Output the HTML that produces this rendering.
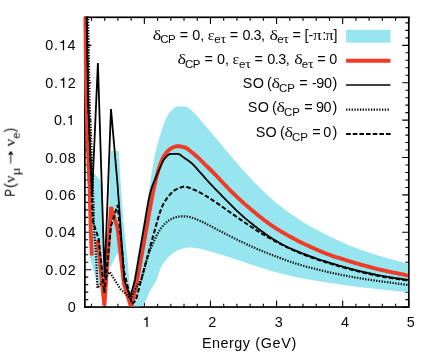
<!DOCTYPE html><html><head><meta charset="utf-8"><title>plot</title><style>
html,body{margin:0;padding:0;background:#fff;}
#p{position:relative;width:436px;height:354px;overflow:hidden;background:#fff;}
text{font-family:"Liberation Sans",sans-serif;font-size:14.4px;}
text.ss{font-size:11.5px;}
text.g{font-family:"Liberation Serif",serif;font-size:14.8px;}
text.sg{font-family:"Liberation Serif",serif;font-size:11.8px;}
</style></head><body><div id="p">
<svg width="436" height="354" viewBox="0 0 436 354" style="position:absolute;left:0;top:0">
<defs><clipPath id="c"><rect x="83.25" y="16.8" width="324.85" height="289.55"/></clipPath></defs>
<rect x="84.85" y="17.3" width="323.95000000000005" height="289.75" fill="none" stroke="#000" stroke-width="1.7"/>
<path d="M91.46,307.05v-3.4M91.46,17.3v3.4M104.68,307.05v-3.4M104.68,17.3v3.4M117.91,307.05v-3.4M117.91,17.3v3.4M131.13,307.05v-3.4M131.13,17.3v3.4M144.35,307.05v-6.6M144.35,17.3v6.6M157.57,307.05v-3.4M157.57,17.3v3.4M170.79,307.05v-3.4M170.79,17.3v3.4M184.02,307.05v-3.4M184.02,17.3v3.4M197.24,307.05v-3.4M197.24,17.3v3.4M210.46,307.05v-6.6M210.46,17.3v6.6M223.68,307.05v-3.4M223.68,17.3v3.4M236.90,307.05v-3.4M236.90,17.3v3.4M250.13,307.05v-3.4M250.13,17.3v3.4M263.35,307.05v-3.4M263.35,17.3v3.4M276.57,307.05v-6.6M276.57,17.3v6.6M289.79,307.05v-3.4M289.79,17.3v3.4M303.01,307.05v-3.4M303.01,17.3v3.4M316.24,307.05v-3.4M316.24,17.3v3.4M329.46,307.05v-3.4M329.46,17.3v3.4M342.68,307.05v-6.6M342.68,17.3v6.6M355.90,307.05v-3.4M355.90,17.3v3.4M369.12,307.05v-3.4M369.12,17.3v3.4M382.35,307.05v-3.4M382.35,17.3v3.4M395.57,307.05v-3.4M395.57,17.3v3.4M408.79,307.05v-6.6M408.79,17.3v6.6M84.85,307.08h6.6M408.8,307.08h-6.6M84.85,299.60h3.4M408.8,299.60h-3.4M84.85,292.12h3.4M408.8,292.12h-3.4M84.85,284.64h3.4M408.8,284.64h-3.4M84.85,277.17h3.4M408.8,277.17h-3.4M84.85,269.69h6.6M408.8,269.69h-6.6M84.85,262.21h3.4M408.8,262.21h-3.4M84.85,254.73h3.4M408.8,254.73h-3.4M84.85,247.25h3.4M408.8,247.25h-3.4M84.85,239.77h3.4M408.8,239.77h-3.4M84.85,232.30h6.6M408.8,232.30h-6.6M84.85,224.82h3.4M408.8,224.82h-3.4M84.85,217.34h3.4M408.8,217.34h-3.4M84.85,209.86h3.4M408.8,209.86h-3.4M84.85,202.38h3.4M408.8,202.38h-3.4M84.85,194.90h6.6M408.8,194.90h-6.6M84.85,187.43h3.4M408.8,187.43h-3.4M84.85,179.95h3.4M408.8,179.95h-3.4M84.85,172.47h3.4M408.8,172.47h-3.4M84.85,164.99h3.4M408.8,164.99h-3.4M84.85,157.51h6.6M408.8,157.51h-6.6M84.85,150.03h3.4M408.8,150.03h-3.4M84.85,142.56h3.4M408.8,142.56h-3.4M84.85,135.08h3.4M408.8,135.08h-3.4M84.85,127.60h3.4M408.8,127.60h-3.4M84.85,120.12h6.6M408.8,120.12h-6.6M84.85,112.64h3.4M408.8,112.64h-3.4M84.85,105.16h3.4M408.8,105.16h-3.4M84.85,97.68h3.4M408.8,97.68h-3.4M84.85,90.21h3.4M408.8,90.21h-3.4M84.85,82.73h6.6M408.8,82.73h-6.6M84.85,75.25h3.4M408.8,75.25h-3.4M84.85,67.77h3.4M408.8,67.77h-3.4M84.85,60.29h3.4M408.8,60.29h-3.4M84.85,52.81h3.4M408.8,52.81h-3.4M84.85,45.34h6.6M408.8,45.34h-6.6M84.85,37.86h3.4M408.8,37.86h-3.4M84.85,30.38h3.4M408.8,30.38h-3.4M84.85,22.90h3.4M408.8,22.90h-3.4" fill="none" stroke="#000" stroke-width="1.1"/>
<g clip-path="url(#c)">
<polygon fill="#97e5ee" points="131.5,307.0 131.0,297.0 133.6,280.0 135.1,271.1 136.6,262.2 138.1,253.2 139.6,244.4 141.1,235.6 142.6,227.0 144.1,218.6 145.6,210.2 147.1,201.7 148.6,193.0 150.1,183.6 151.6,173.5 153.1,164.2 154.6,156.5 156.1,149.8 157.6,143.9 159.1,138.8 160.6,134.0 162.1,128.9 163.6,124.3 165.1,120.8 166.6,117.5 168.1,114.7 169.6,112.6 171.1,110.9 172.6,109.4 174.1,108.1 175.6,107.2 177.1,106.6 178.6,106.6 180.1,106.6 181.6,106.6 183.1,106.6 184.6,106.6 186.1,106.7 187.6,107.3 189.1,108.4 190.6,109.6 192.1,110.9 193.6,112.2 195.1,113.7 196.6,115.3 198.1,117.1 199.6,118.9 201.1,120.8 202.6,122.6 204.1,124.5 205.6,126.2 207.1,127.9 208.6,129.6 210.1,131.3 211.6,133.1 213.1,134.8 214.6,136.5 216.1,138.3 217.6,140.0 219.1,141.8 220.6,143.6 222.1,145.4 223.6,147.2 225.1,149.0 226.6,150.8 228.1,152.6 229.6,154.4 231.1,156.2 232.6,158.0 234.1,159.8 235.6,161.6 237.1,163.4 238.6,165.1 240.1,166.9 241.6,168.6 243.1,170.2 244.6,171.8 246.1,173.4 247.6,174.9 249.1,176.5 250.6,178.2 252.1,179.8 253.6,181.4 255.1,182.9 256.6,184.5 258.1,186.0 259.6,187.5 261.1,189.0 262.6,190.4 264.1,191.9 265.6,193.3 267.1,194.7 268.6,196.1 270.1,197.5 271.6,198.8 273.1,200.1 274.6,201.4 276.1,202.7 277.6,203.9 279.1,205.1 280.6,206.3 282.1,207.5 283.6,208.7 285.1,209.8 286.6,210.9 288.1,211.9 289.6,212.9 291.1,213.9 292.6,215.0 294.1,216.0 295.6,217.1 297.1,218.1 298.6,219.2 300.1,220.3 301.6,221.2 303.1,222.2 304.6,223.1 306.1,223.9 307.6,224.8 309.1,225.6 310.6,226.4 312.1,227.2 313.6,228.0 315.1,228.9 316.6,229.7 318.1,230.5 319.6,231.3 321.1,232.1 322.6,232.9 324.1,233.6 325.6,234.4 327.1,235.2 328.6,235.9 330.1,236.6 331.6,237.4 333.1,238.1 334.6,238.8 336.1,239.5 337.6,240.2 339.1,240.9 340.6,241.6 342.1,242.3 343.6,243.0 345.1,243.6 346.6,244.3 348.1,244.9 349.6,245.5 351.1,246.2 352.6,246.7 354.1,247.3 355.6,247.9 357.1,248.4 358.6,249.0 360.1,249.5 361.6,250.0 363.1,250.6 364.6,251.1 366.1,251.6 367.6,252.1 369.1,252.6 370.6,253.1 372.1,253.5 373.6,254.0 375.1,254.5 376.6,255.0 378.1,255.4 379.6,255.9 381.1,256.3 382.6,256.8 384.1,257.2 385.6,257.6 387.1,258.1 388.6,258.5 390.1,258.9 391.6,259.3 393.1,259.8 394.6,260.2 396.1,260.6 397.6,261.0 399.1,261.4 400.6,261.8 402.1,262.2 403.6,262.7 405.1,263.1 406.6,263.5 408.1,263.9 408.8,264.1 408.8,292.3 407.8,292.2 406.3,292.0 404.8,291.9 403.3,291.7 401.8,291.6 400.3,291.4 398.8,291.2 397.3,291.1 395.8,290.9 394.3,290.8 392.8,290.6 391.3,290.5 389.8,290.3 388.3,290.2 386.8,290.0 385.3,289.9 383.8,289.7 382.3,289.6 380.8,289.4 379.3,289.2 377.8,289.1 376.3,288.9 374.8,288.8 373.3,288.6 371.8,288.4 370.3,288.3 368.8,288.1 367.3,287.9 365.8,287.8 364.3,287.6 362.8,287.4 361.3,287.2 359.8,287.1 358.3,286.9 356.8,286.7 355.3,286.5 353.8,286.3 352.3,286.1 350.8,285.9 349.3,285.7 347.8,285.5 346.3,285.3 344.8,285.1 343.3,284.9 341.8,284.7 340.3,284.5 338.8,284.3 337.3,284.0 335.8,283.8 334.3,283.6 332.8,283.4 331.3,283.2 329.8,282.9 328.3,282.7 326.8,282.5 325.3,282.2 323.8,282.0 322.3,281.8 320.8,281.5 319.3,281.3 317.8,281.0 316.3,280.8 314.8,280.5 313.3,280.2 311.8,280.0 310.3,279.7 308.8,279.5 307.3,279.2 305.8,278.9 304.3,278.6 302.8,278.4 301.3,278.1 299.8,277.8 298.3,277.5 296.8,277.2 295.3,276.9 293.8,276.5 292.3,276.2 290.8,275.9 289.3,275.5 287.8,275.2 286.3,274.8 284.8,274.5 283.3,274.1 281.8,273.7 280.3,273.3 278.8,273.0 277.3,272.6 275.8,272.2 274.3,271.8 272.8,271.4 271.3,270.9 269.8,270.5 268.3,270.0 266.8,269.6 265.3,269.1 263.8,268.6 262.3,268.2 260.8,267.7 259.3,267.2 257.8,266.7 256.3,266.2 254.8,265.7 253.3,265.2 251.8,264.7 250.3,264.2 248.8,263.7 247.3,263.2 245.8,262.7 244.3,262.2 242.8,261.7 241.3,261.2 239.8,260.7 238.3,260.2 236.8,259.7 235.3,259.2 233.8,258.7 232.3,258.2 230.8,257.7 229.3,257.2 227.8,256.7 226.3,256.3 224.8,255.8 223.3,255.3 221.8,254.8 220.3,254.4 218.8,253.9 217.3,253.5 215.8,253.0 214.3,252.6 212.8,252.1 211.3,251.7 209.8,251.2 208.3,250.8 206.8,250.4 205.3,250.0 203.8,249.7 202.3,249.3 200.8,249.0 199.3,248.6 197.8,248.4 196.3,248.1 194.8,247.9 193.3,247.7 191.8,247.6 190.3,247.5 188.8,247.6 187.3,247.7 185.8,247.9 184.3,248.2 182.8,248.4 181.3,248.9 179.8,249.4 178.3,250.0 176.8,250.7 175.3,251.6 173.8,252.6 172.3,253.8 170.8,255.0 169.3,256.3 167.8,257.8 166.3,259.5 164.8,261.4 163.3,263.4 161.8,265.9 160.3,268.9 158.8,273.3 157.3,278.0 155.8,281.4 154.3,284.1 152.8,286.4 151.3,288.7 149.8,291.4 148.3,294.8 146.8,298.6 145.3,301.9 143.8,304.1 142.3,305.3 140.8,306.1 139.3,307.0"/>
<polygon fill="#97e5ee" points="110.5,151.0 118.8,151.0 120.9,187.0 123.9,226.0 127.8,262.0 129.2,279.0 131.0,295.0 132.0,307.0 130.0,307.0 124.0,262.0 117.5,253.0 109.9,268.3 108.0,262.0 109.0,226.0 109.5,187.0"/>
<polygon fill="#97e5ee" points="93.3,171.9 99.0,178.8 101.9,187.0 103.5,232.0 104.6,262.0 104.6,280.0 100.0,283.0 97.0,283.0 89.5,256.0 92.0,220.0 92.0,187.0"/>
<polyline fill="none" stroke="#f03b26" stroke-width="3.9" stroke-linejoin="bevel" points="85.1,8.0 86.0,75.0 86.3,97.0 87.7,142.0 89.6,187.0 90.8,232.0 91.8,255.5"/>
<polyline fill="none" stroke="#f03b26" stroke-width="3.9" stroke-linejoin="bevel" points="97.7,240.0 104.4,305.5 111.0,207.0 117.6,228.0 123.9,283.6 131.2,307.5 137.2,280.0 138.7,271.7 140.2,263.3 141.7,255.0 143.2,246.6 144.7,238.3 146.2,230.0 147.7,221.3 149.2,212.7 150.7,204.3 152.2,196.3 153.7,189.1 155.2,182.4 156.7,176.2 158.2,170.7 159.7,166.1 161.2,161.9 162.7,158.4 164.2,155.8 165.7,153.6 167.2,151.6 168.7,150.1 170.2,149.0 171.7,148.1 173.2,147.3 174.7,146.7 176.2,146.3 177.7,146.2 179.2,146.3 180.7,146.5 182.2,146.8 183.7,147.1 185.2,147.5 186.7,148.3 188.2,149.4 189.7,150.6 191.2,151.8 192.7,152.9 194.2,154.2 195.7,155.5 197.2,156.8 198.7,158.2 200.2,159.7 201.7,161.1 203.2,162.6 204.7,164.1 206.2,165.6 207.7,167.0 209.2,168.5 210.7,170.0 212.2,171.5 213.7,173.0 215.2,174.5 216.7,176.1 218.2,177.6 219.7,179.3 221.2,180.9 222.7,182.5 224.2,184.2 225.7,185.7 227.2,187.3 228.7,188.8 230.2,190.3 231.7,191.8 233.2,193.3 234.7,194.7 236.2,196.2 237.7,197.6 239.2,199.0 240.7,200.4 242.2,201.7 243.7,203.1 245.2,204.4 246.7,205.7 248.2,207.0 249.7,208.3 251.2,209.6 252.7,210.9 254.2,212.1 255.7,213.3 257.2,214.5 258.7,215.7 260.2,216.9 261.7,218.1 263.2,219.2 264.7,220.4 266.2,221.5 267.7,222.6 269.2,223.7 270.7,224.8 272.2,225.8 273.7,226.8 275.2,227.8 276.7,228.8 278.2,229.7 279.7,230.7 281.2,231.6 282.7,232.5 284.2,233.3 285.7,234.2 287.2,235.1 288.7,235.9 290.2,236.7 291.7,237.5 293.2,238.3 294.7,239.1 296.2,239.9 297.7,240.7 299.2,241.4 300.7,242.2 302.2,242.9 303.7,243.6 305.2,244.4 306.7,245.1 308.2,245.8 309.7,246.5 311.2,247.2 312.7,247.8 314.2,248.5 315.7,249.2 317.2,249.8 318.7,250.5 320.2,251.1 321.7,251.7 323.2,252.4 324.7,253.0 326.2,253.6 327.7,254.1 329.2,254.7 330.7,255.3 332.2,255.8 333.7,256.3 335.2,256.8 336.7,257.3 338.2,257.7 339.7,258.2 341.2,258.7 342.7,259.1 344.2,259.6 345.7,260.1 347.2,260.5 348.7,261.0 350.2,261.5 351.7,261.9 353.2,262.4 354.7,262.8 356.2,263.3 357.7,263.7 359.2,264.1 360.7,264.6 362.2,265.0 363.7,265.4 365.2,265.8 366.7,266.2 368.2,266.6 369.7,267.0 371.2,267.4 372.7,267.8 374.2,268.2 375.7,268.6 377.2,268.9 378.7,269.3 380.2,269.6 381.7,270.0 383.2,270.3 384.7,270.7 386.2,271.0 387.7,271.3 389.2,271.7 390.7,272.0 392.2,272.3 393.7,272.6 395.2,272.9 396.7,273.2 398.2,273.5 399.7,273.8 401.2,274.1 402.7,274.4 404.2,274.7 405.7,275.1 407.2,275.4 408.7,275.7 408.8,275.7"/>
<polyline fill="none" stroke="#000" stroke-width="1.8" stroke-linejoin="miter" points="86.5,8.0 87.8,75.0 88.0,97.0 89.8,142.0 91.8,187.0 92.0,197.0 97.9,63.0 104.6,277.0 111.0,109.0 117.6,185.0 124.3,280.0 130.3,297.0 134.9,280.0 136.4,271.3 137.9,262.6 139.4,253.8 140.9,245.2 142.4,236.7 143.9,228.0 145.4,219.0 146.9,209.9 148.4,201.5 149.9,194.3 151.4,188.7 152.9,184.4 154.4,180.8 155.9,177.3 157.4,173.7 158.9,170.1 160.4,166.8 161.9,163.5 163.4,160.3 164.9,158.3 166.4,156.6 167.9,155.2 169.4,154.2 170.9,153.9 172.4,153.9 173.9,153.9 175.4,153.9 176.9,153.9 178.4,154.0 179.9,154.6 181.4,155.7 182.9,156.9 184.4,158.0 185.9,159.0 187.4,160.0 188.9,161.0 190.4,162.2 191.9,163.4 193.4,164.8 194.9,166.4 196.4,168.1 197.9,169.9 199.4,171.6 200.9,173.2 202.4,174.9 203.9,176.6 205.4,178.3 206.9,180.0 208.4,181.6 209.9,183.3 211.4,184.9 212.9,186.5 214.4,188.1 215.9,189.6 217.4,191.2 218.9,192.7 220.4,194.2 221.9,195.8 223.4,197.3 224.9,198.8 226.4,200.4 227.9,201.9 229.4,203.4 230.9,204.9 232.4,206.4 233.9,207.9 235.4,209.4 236.9,210.8 238.4,212.2 239.9,213.6 241.4,214.9 242.9,216.3 244.4,217.6 245.9,218.9 247.4,220.1 248.9,221.4 250.4,222.6 251.9,223.8 253.4,225.0 254.9,226.2 256.4,227.3 257.9,228.4 259.4,229.6 260.9,230.7 262.4,231.7 263.9,232.8 265.4,233.9 266.9,234.9 268.4,235.9 269.9,236.9 271.4,237.9 272.9,238.9 274.4,239.8 275.9,240.7 277.4,241.6 278.9,242.5 280.4,243.3 281.9,244.2 283.4,245.0 284.9,245.8 286.4,246.5 287.9,247.3 289.4,248.0 290.9,248.6 292.4,249.3 293.9,249.9 295.4,250.6 296.9,251.2 298.4,251.8 299.9,252.4 301.4,253.0 302.9,253.5 304.4,254.1 305.9,254.7 307.4,255.2 308.9,255.8 310.4,256.3 311.9,256.9 313.4,257.4 314.9,257.9 316.4,258.5 317.9,259.0 319.4,259.5 320.9,260.0 322.4,260.5 323.9,260.9 325.4,261.4 326.9,261.9 328.4,262.4 329.9,262.8 331.4,263.3 332.9,263.7 334.4,264.2 335.9,264.6 337.4,265.0 338.9,265.5 340.4,265.9 341.9,266.3 343.4,266.8 344.9,267.2 346.4,267.6 347.9,268.0 349.4,268.4 350.9,268.8 352.4,269.2 353.9,269.6 355.4,270.0 356.9,270.4 358.4,270.7 359.9,271.1 361.4,271.5 362.9,271.8 364.4,272.2 365.9,272.5 367.4,272.9 368.9,273.2 370.4,273.5 371.9,273.9 373.4,274.2 374.9,274.5 376.4,274.8 377.9,275.1 379.4,275.4 380.9,275.7 382.4,275.9 383.9,276.2 385.4,276.4 386.9,276.7 388.4,276.9 389.9,277.2 391.4,277.4 392.9,277.6 394.4,277.9 395.9,278.1 397.4,278.3 398.9,278.5 400.4,278.7 401.9,279.0 403.4,279.2 404.9,279.4 406.4,279.6 407.9,279.9 408.8,280.0"/>
<polyline fill="none" stroke="#000" stroke-width="2.2" stroke-dasharray="1.3,1.46" points="87.9,8.0 89.2,75.0 89.4,97.0 91.2,142.0 92.9,187.0 94.3,234.0 95.9,252.0 97.5,288.0 109.7,272.0 120.7,289.3 130.9,298.8 136.3,287.3 141.2,280.0 142.7,274.5 144.2,268.9 145.7,263.4 147.2,258.4 148.7,254.1 150.2,250.0 151.7,246.2 153.2,242.7 154.7,239.4 156.2,236.3 157.7,233.5 159.2,231.0 160.7,228.7 162.2,226.8 163.7,225.0 165.2,223.5 166.7,222.1 168.2,220.9 169.7,219.9 171.2,219.1 172.7,218.3 174.2,217.7 175.7,217.3 177.2,216.9 178.7,216.6 180.2,216.4 181.7,216.3 183.2,216.3 184.7,216.4 186.2,216.5 187.7,216.6 189.2,216.8 190.7,217.2 192.2,217.7 193.7,218.1 195.2,218.7 196.7,219.3 198.2,220.0 199.7,220.7 201.2,221.4 202.7,222.1 204.2,222.9 205.7,223.6 207.2,224.3 208.7,225.1 210.2,225.9 211.7,226.7 213.2,227.5 214.7,228.3 216.2,229.1 217.7,229.8 219.2,230.6 220.7,231.4 222.2,232.1 223.7,232.9 225.2,233.7 226.7,234.4 228.2,235.2 229.7,236.0 231.2,236.7 232.7,237.5 234.2,238.3 235.7,239.0 237.2,239.7 238.7,240.5 240.2,241.2 241.7,241.9 243.2,242.6 244.7,243.3 246.2,244.0 247.7,244.7 249.2,245.4 250.7,246.1 252.2,246.7 253.7,247.4 255.2,248.1 256.7,248.7 258.2,249.3 259.7,250.0 261.2,250.6 262.7,251.2 264.2,251.9 265.7,252.5 267.2,253.1 268.7,253.7 270.2,254.3 271.7,254.9 273.2,255.4 274.7,256.0 276.2,256.6 277.7,257.1 279.2,257.7 280.7,258.3 282.2,258.8 283.7,259.4 285.2,259.9 286.7,260.5 288.2,261.0 289.7,261.5 291.2,262.0 292.7,262.5 294.2,263.0 295.7,263.5 297.2,264.0 298.7,264.4 300.2,264.9 301.7,265.3 303.2,265.7 304.7,266.1 306.2,266.6 307.7,267.0 309.2,267.4 310.7,267.8 312.2,268.1 313.7,268.5 315.2,268.9 316.7,269.3 318.2,269.7 319.7,270.0 321.2,270.4 322.7,270.8 324.2,271.1 325.7,271.5 327.2,271.8 328.7,272.1 330.2,272.5 331.7,272.8 333.2,273.1 334.7,273.5 336.2,273.8 337.7,274.1 339.2,274.4 340.7,274.7 342.2,275.0 343.7,275.3 345.2,275.6 346.7,275.9 348.2,276.2 349.7,276.5 351.2,276.8 352.7,277.0 354.2,277.3 355.7,277.6 357.2,277.8 358.7,278.1 360.2,278.3 361.7,278.6 363.2,278.8 364.7,279.1 366.2,279.3 367.7,279.5 369.2,279.7 370.7,280.0 372.2,280.2 373.7,280.4 375.2,280.6 376.7,280.8 378.2,281.0 379.7,281.2 381.2,281.4 382.7,281.6 384.2,281.8 385.7,282.0 387.2,282.2 388.7,282.4 390.2,282.6 391.7,282.8 393.2,283.0 394.7,283.2 396.2,283.4 397.7,283.6 399.2,283.8 400.7,284.0 402.2,284.2 403.7,284.4 405.2,284.6 406.7,284.8 408.2,285.0 408.8,285.1"/>
<polyline fill="none" stroke="#000" stroke-width="2.0" stroke-dasharray="4.6,2.2" points="86.5,8.0 87.8,75.0 88.0,97.0 89.8,142.0 91.5,187.0 93.0,222.0 98.5,238.0 104.4,293.0 111.0,226.0 117.6,205.0 124.2,272.0 131.8,304.0 135.8,300.5 141.2,280.0 142.7,274.4 144.2,268.8 145.7,263.3 147.2,257.7 148.7,252.1 150.2,246.5 151.7,241.0 153.2,235.7 154.7,230.4 156.2,225.0 157.7,219.6 159.2,214.6 160.7,210.1 162.2,206.4 163.7,203.5 165.2,200.9 166.7,198.6 168.2,196.6 169.7,194.8 171.2,193.2 172.7,191.7 174.2,190.5 175.7,189.7 177.2,188.9 178.7,188.2 180.2,187.6 181.7,187.1 183.2,186.8 184.7,186.7 186.2,186.9 187.7,187.2 189.2,187.7 190.7,188.3 192.2,189.0 193.7,189.6 195.2,190.2 196.7,190.9 198.2,191.6 199.7,192.4 201.2,193.2 202.7,194.1 204.2,194.9 205.7,195.8 207.2,196.7 208.7,197.6 210.2,198.6 211.7,199.6 213.2,200.6 214.7,201.6 216.2,202.6 217.7,203.6 219.2,204.6 220.7,205.7 222.2,206.7 223.7,207.8 225.2,208.8 226.7,209.9 228.2,211.0 229.7,212.0 231.2,213.1 232.7,214.1 234.2,215.2 235.7,216.2 237.2,217.3 238.7,218.3 240.2,219.4 241.7,220.4 243.2,221.4 244.7,222.5 246.2,223.5 247.7,224.5 249.2,225.5 250.7,226.5 252.2,227.4 253.7,228.4 255.2,229.4 256.7,230.4 258.2,231.3 259.7,232.3 261.2,233.2 262.7,234.1 264.2,235.0 265.7,235.9 267.2,236.8 268.7,237.6 270.2,238.5 271.7,239.3 273.2,240.2 274.7,241.0 276.2,241.8 277.7,242.6 279.2,243.4 280.7,244.1 282.2,244.9 283.7,245.7 285.2,246.4 286.7,247.1 288.2,247.8 289.7,248.5 291.2,249.2 292.7,249.9 294.2,250.6 295.7,251.3 297.2,251.9 298.7,252.5 300.2,253.2 301.7,253.8 303.2,254.4 304.7,255.0 306.2,255.5 307.7,256.1 309.2,256.6 310.7,257.2 312.2,257.7 313.7,258.2 315.2,258.8 316.7,259.3 318.2,259.8 319.7,260.3 321.2,260.8 322.7,261.3 324.2,261.7 325.7,262.2 327.2,262.7 328.7,263.2 330.2,263.6 331.7,264.1 333.2,264.5 334.7,265.0 336.2,265.4 337.7,265.8 339.2,266.3 340.7,266.7 342.2,267.1 343.7,267.6 345.2,268.0 346.7,268.4 348.2,268.8 349.7,269.2 351.2,269.6 352.7,270.0 354.2,270.4 355.7,270.8 357.2,271.1 358.7,271.5 360.2,271.9 361.7,272.2 363.2,272.6 364.7,273.0 366.2,273.3 367.7,273.6 369.2,274.0 370.7,274.3 372.2,274.6 373.7,275.0 375.2,275.3 376.7,275.6 378.2,275.9 379.7,276.1 381.2,276.4 382.7,276.7 384.2,276.9 385.7,277.2 387.2,277.4 388.7,277.7 390.2,277.9 391.7,278.1 393.2,278.4 394.7,278.6 396.2,278.8 397.7,279.0 399.2,279.3 400.7,279.5 402.2,279.7 403.7,279.9 405.2,280.1 406.7,280.4 408.2,280.6 408.8,280.7"/>
</g>
<rect x="346.1" y="29.8" width="44.4" height="12.9" fill="#97e5ee"/>
<path d="M346.1,60.8H390.5" stroke="#f03b26" stroke-width="3.9"/>
<path d="M346.1,85H390.5" stroke="#000" stroke-width="1.7"/>
<path d="M346.1,109.6H389.4" stroke="#000" stroke-width="2.2" stroke-dasharray="1.3,1.46"/>
<path d="M346.1,134.0H390.6" stroke="#000" stroke-width="1.9" stroke-dasharray="4.6,2.05"/>
<g fill="#000" opacity="0.99">
<text class="g" transform="translate(152.85,39.50) scale(1.225,1)">δ</text>
<text class="ss" transform="translate(160.30,43.40)" letter-spacing="-0.5">CP</text>
<text class="s" transform="translate(179.70,39.50)">=</text>
<text class="s" transform="translate(192.35,39.50)">0</text>
<text class="s" transform="translate(200.20,39.50)">,</text>
<text class="g" transform="translate(207.68,39.50) scale(1.068,1)">ε</text>
<text class="ss" transform="translate(214.30,43.40)">e</text>
<text class="sg" transform="translate(220.60,43.40) scale(1.189,1)">τ</text>
<text class="s" transform="translate(229.70,39.50)">=</text>
<text class="s" transform="translate(242.48,39.50)" letter-spacing="-0.525">0.3</text>
<text class="s" transform="translate(260.95,39.50)">,</text>
<text class="g" transform="translate(269.45,39.50) scale(1.21,1)">δ</text>
<text class="ss" transform="translate(277.15,43.40)">e</text>
<text class="sg" transform="translate(283.25,43.40) scale(1.176,1)">τ</text>
<text class="s" transform="translate(292.45,39.50)">=</text>
<text class="s" transform="translate(304.45,39.50)">[</text>
<text class="s" transform="translate(308.50,39.50)">-</text>
<text class="g" transform="translate(312.92,39.50) scale(1.157,1)">π</text>
<text class="s" transform="translate(322.25,39.50)">:</text>
<text class="g" transform="translate(325.60,39.50) scale(1.079,1)">π</text>
<text class="s" transform="translate(333.40,39.50)">]</text>
<text class="g" transform="translate(177.55,63.70) scale(1.225,1)">δ</text>
<text class="ss" transform="translate(185.00,67.60)" letter-spacing="-0.5">CP</text>
<text class="s" transform="translate(204.40,63.70)">=</text>
<text class="s" transform="translate(217.05,63.70)">0</text>
<text class="s" transform="translate(224.90,63.70)">,</text>
<text class="g" transform="translate(232.38,63.70) scale(1.068,1)">ε</text>
<text class="ss" transform="translate(239.00,67.60)">e</text>
<text class="sg" transform="translate(245.30,67.60) scale(1.189,1)">τ</text>
<text class="s" transform="translate(254.40,63.70)">=</text>
<text class="s" transform="translate(267.18,63.70)" letter-spacing="-0.525">0.3</text>
<text class="s" transform="translate(285.65,63.70)">,</text>
<text class="g" transform="translate(294.15,63.70) scale(1.21,1)">δ</text>
<text class="ss" transform="translate(301.85,67.60)">e</text>
<text class="sg" transform="translate(307.95,67.60) scale(1.176,1)">τ</text>
<text class="s" transform="translate(317.15,63.70)">=</text>
<text class="s" transform="translate(329.20,63.70)">0</text>
<text class="s" transform="translate(242.77,88.00)" letter-spacing="0.3">SO</text>
<text class="s" transform="translate(267.05,88.00)">(</text>
<text class="g" transform="translate(271.55,88.00) scale(1.225,1)">δ</text>
<text class="ss" transform="translate(279.12,91.90)" letter-spacing="-0.1">CP</text>
<text class="s" transform="translate(299.30,88.00)">=</text>
<text class="s" transform="translate(311.90,88.00)">-</text>
<text class="s" transform="translate(316.35,88.00)" letter-spacing="-0.25">90</text>
<text class="s" transform="translate(332.52,88.00)">)</text>
<text class="s" transform="translate(247.77,112.30)" letter-spacing="0.3">SO</text>
<text class="s" transform="translate(272.05,112.30)">(</text>
<text class="g" transform="translate(276.55,112.30) scale(1.225,1)">δ</text>
<text class="ss" transform="translate(284.12,116.20)" letter-spacing="-0.1">CP</text>
<text class="s" transform="translate(304.30,112.30)">=</text>
<text class="s" transform="translate(316.02,112.30)" letter-spacing="-0.4">90</text>
<text class="s" transform="translate(332.38,112.30)">)</text>
<text class="s" transform="translate(255.67,136.60)" letter-spacing="0.3">SO</text>
<text class="s" transform="translate(279.95,136.60)">(</text>
<text class="g" transform="translate(284.45,136.60) scale(1.225,1)">δ</text>
<text class="ss" transform="translate(292.02,140.50)" letter-spacing="-0.1">CP</text>
<text class="s" transform="translate(312.20,136.60)">=</text>
<text class="s" transform="translate(323.35,136.60)">0</text>
<text class="s" transform="translate(332.38,136.60)">)</text>
<text class="s" transform="translate(67.65,312.10)">0</text>
<text class="s" transform="translate(45.15,274.70)" letter-spacing="0.9">0.02</text>
<text class="s" transform="translate(45.27,237.30)" letter-spacing="0.734">0.04</text>
<text class="s" transform="translate(45.27,199.90)" letter-spacing="0.817">0.06</text>
<text class="s" transform="translate(45.27,162.50)" letter-spacing="0.817">0.08</text>
<text class="s" transform="translate(54.03,125.10)">0</text><text class="s" transform="translate(62.24,125.10)">.</text><path transform="translate(66.44,125.10) scale(0.01440,-0.01440)" d="M373 0H284V505H108V568C220 575 285 620 305 709H373Z"/>
<text class="s" transform="translate(45.15,87.70)">0</text><text class="s" transform="translate(54.06,87.70)">.</text><path transform="translate(58.96,87.70) scale(0.01440,-0.01440)" d="M373 0H284V505H108V568C220 575 285 620 305 709H373Z"/><text class="s" transform="translate(67.87,87.70)">2</text>
<text class="s" transform="translate(45.27,50.30)">0</text><text class="s" transform="translate(54.01,50.30)">.</text><path transform="translate(58.75,50.30) scale(0.01440,-0.01440)" d="M373 0H284V505H108V568C220 575 285 620 305 709H373Z"/><text class="s" transform="translate(67.49,50.30)">4</text>
<path transform="translate(142.30,327.00) scale(0.01440,-0.01440)" d="M373 0H284V505H108V568C220 575 285 620 305 709H373Z"/>
<text class="s" transform="translate(208.35,327.00)">2</text>
<text class="s" transform="translate(274.67,327.00)">3</text>
<text class="s" transform="translate(340.88,327.00)">4</text>
<text class="s" transform="translate(406.82,327.00)">5</text>
<text class="s" transform="translate(201.95,347.90)" letter-spacing="0.49">Energy</text>
<text class="s" transform="translate(255.20,347.90)" letter-spacing="0.649">(GeV)</text>
<g transform="translate(14.8,195.7) rotate(-90)">
<text class="s" transform="translate(-0.90,0.00) scale(0.8,1)">P</text>
<text class="s" transform="translate(7.73,0.00) scale(1.016,1)">(</text>
<text class="g" transform="translate(13.12,0.00) scale(1.065,1)">ν</text>
<text class="sg" transform="translate(20.33,5.00) scale(1.285,1)">μ</text>
<text class="g" transform="translate(49.33,0.00) scale(1.145,1)">ν</text>
<text class="ss" transform="translate(56.97,5.40) scale(0.992,1)">e</text>
<text class="s" transform="translate(63.62,0.00) scale(0.896,1)">)</text>
<path d="M32.3,-4.1H43.6" stroke="#000" stroke-width="0.9" fill="none"/><path d="M44.9,-4.1l-4.2,-2.9l0.9,2.9l-0.9,2.9z" fill="#000"/>
</g></g>
</svg>
</div></body></html>
